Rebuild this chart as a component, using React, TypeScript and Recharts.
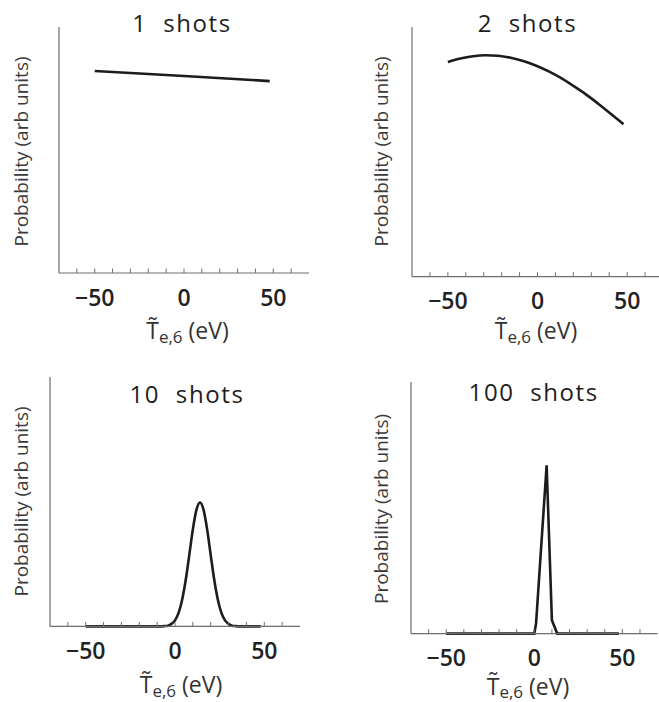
import { LineChart, Line, XAxis, YAxis } from 'recharts';

// shared axis ticks (minor every 10 eV, labels at -50/0/50)
const teTicks = [-60, -50, -40, -30, -20, -10, 0, 10, 20, 30, 40, 50, 60];
const labelledTicks = [-50, 0, 50];

// 1 shot
const oneShotTe = [-50, 0, 48];
const oneShotProb = [0.821, 0.801, 0.78];

// 2 shots
const twoShotTe = [-50, -43, -36, -29, -22, -15, -8, -1, 6, 13, 20, 27, 34, 41, 48];
const twoShotProb = [0.86, 0.874, 0.883, 0.887, 0.885, 0.877, 0.864, 0.846, 0.823, 0.796, 0.764, 0.73, 0.692, 0.652, 0.611];

// 10 shots
const tenShotTe = [
  -50, -48, -46, -44, -42, -40, -38, -36, -34, -32, -30, -28, -26, -24, -22, -20, -18, -16, -14, -12, -10, -8,
  -6, -4, -2, 0, 2, 4, 6, 8, 10, 12, 14, 16, 18, 20, 22, 24, 26, 28, 30, 32, 34,
  36, 38, 40, 42, 44, 46, 48,
];
const tenShotProb = [
  0, 0, 0, 0, 0, 0, 0, 0, 0, 0, 0, 0, 0, 0, 0, 0, 0, 0, 0, 0, 0, 0,
  0.001, 0.003, 0.01, 0.024, 0.054, 0.107, 0.186, 0.286, 0.389, 0.467, 0.497, 0.467, 0.389, 0.286, 0.186, 0.107, 0.054, 0.024, 0.01, 0.003, 0.001,
  0, 0, 0, 0, 0, 0, 0,
];

// 100 shots
const hundredShotTe = [-50, 0, 1, 7, 10, 13, 48];
const hundredShotProb = [0, 0, 0.04, 0.669, 0.053, 0, 0];

const AXIS = '#6e6e6e';
const INK = '#1c1c1c';
const FONT = '"Open Sans", "Noto Sans", sans-serif';

type Panel = {
  title: string;
  te: number[];
  prob: number[];
  curve: 'linear' | 'monotone';
  axisX: number;
  axisTop: number;
  axisBottom: number;
  axisRight: number;
  titleX: number;
  titleY: number;
  yLabelX: number;
  yLabelY: number;
  xLabelX: number;
  xLabelY: number;
};

const panels: Panel[] = [
  {
    title: '1  shots', te: oneShotTe, prob: oneShotProb, curve: 'linear',
    axisX: 59, axisTop: 27, axisBottom: 273, axisRight: 309,
    titleX: 182, titleY: 31.5, yLabelX: 21, yLabelY: 151.5, xLabelX: 187.5, xLabelY: 339,
  },
  {
    title: '2  shots', te: twoShotTe, prob: twoShotProb, curve: 'monotone',
    axisX: 412, axisTop: 27, axisBottom: 276.7, axisRight: 663,
    titleX: 527.5, titleY: 31.5, yLabelX: 381, yLabelY: 151.5, xLabelX: 536, xLabelY: 339,
  },
  {
    title: '10  shots', te: tenShotTe, prob: tenShotProb, curve: 'monotone',
    axisX: 50, axisTop: 377.3, axisBottom: 626.7, axisRight: 300,
    titleX: 187, titleY: 403.3, yLabelX: 20.5, yLabelY: 501.5, xLabelX: 181, xLabelY: 693,
  },
  {
    title: '100  shots', te: hundredShotTe, prob: hundredShotProb, curve: 'linear',
    axisX: 410.7, axisTop: 381.7, axisBottom: 633.3, axisRight: 657.3,
    titleX: 533.7, titleY: 400.7, yLabelX: 381, yLabelY: 509, xLabelX: 528, xLabelY: 694.5,
  },
];

// inward tick marks, number only on the labelled ones
function TeTick(props: any) {
  const { x, y, payload } = props;
  const v = payload.value as number;
  return (
    <g>
      <line x1={x} x2={x} y1={y} y2={y - 4.5} stroke={AXIS} strokeWidth={1} />
      {labelledTicks.includes(v) && (
        <text x={x} y={y + 32.5} textAnchor="middle" fontFamily={FONT} fontWeight={600} fontSize={23} fill="#222">
          {v < 0 ? '\u2212' + Math.abs(v) : String(v)}
        </text>
      )}
    </g>
  );
}

const Y_AXIS_W = 10;

function ShotPanel({ p }: { p: Panel }) {
  const data = p.te.map((t, i) => ({ te: t, prob: p.prob[i] }));
  const pad = 10;
  const plotW = p.axisRight - p.axisX;
  const plotH = p.axisBottom - p.axisTop;
  return (
    <div style={{ position: 'absolute', left: p.axisX - Y_AXIS_W, top: p.axisTop - pad }}>
      <LineChart
        width={plotW + Y_AXIS_W + pad}
        height={plotH + pad + 40}
        data={data}
        margin={{ top: pad, right: pad, left: 0, bottom: 0 }}
      >
        <XAxis
          type="number"
          dataKey="te"
          domain={[-70, 70]}
          ticks={teTicks}
          interval={0}
          height={40}
          tickLine={false}
          tickSize={0}
          tickMargin={0}
          axisLine={{ stroke: AXIS, strokeWidth: 1.2 }}
          tick={(tp: any) => <TeTick {...tp} />}
        />
        <YAxis
          type="number"
          domain={[0, 1]}
          width={Y_AXIS_W}
          tick={false}
          tickLine={false}
          axisLine={{ stroke: AXIS, strokeWidth: 1.2 }}
        />
        <Line
          dataKey="prob"
          type={p.curve}
          stroke={INK}
          strokeWidth={2.6}
          strokeLinejoin="miter"
          dot={false}
          activeDot={false}
          isAnimationActive={false}
        />
      </LineChart>
    </div>
  );
}

function PanelText({ p }: { p: Panel }) {
  return (
    <g fontFamily={FONT}>
      <text x={p.titleX} y={p.titleY} textAnchor="middle" fontSize={24} fontWeight={500} fill="#1e1e1e" letterSpacing={1.6} style={{ whiteSpace: 'pre' }}>
        {p.title}
      </text>
      <text
        transform={`translate(${p.yLabelX}, ${p.yLabelY}) rotate(-90)`}
        textAnchor="middle"
        dominantBaseline="central"
        fontSize={19}
        fill="#3a3a3a"
      >
        Probability (arb units)
      </text>
      <text x={p.xLabelX} y={p.xLabelY} textAnchor="middle" fontSize={23} fill="#333">
        <tspan>{'T\u0303'}</tspan>
        <tspan fontSize={17} dy={3.5}>e,6</tspan>
        <tspan dy={-3.5}> (eV)</tspan>
      </text>
    </g>
  );
}

export default function App() {
  return (
    <div style={{ position: 'absolute', left: 0, top: 0, width: 659, height: 702, overflow: 'hidden', background: '#fff' }}>
      {panels.map((p) => (
        <ShotPanel key={p.title} p={p} />
      ))}
      <svg width={659} height={702} style={{ position: 'absolute', left: 0, top: 0, pointerEvents: 'none' }}>
        {panels.map((p) => (
          <PanelText key={p.title} p={p} />
        ))}
      </svg>
    </div>
  );
}
